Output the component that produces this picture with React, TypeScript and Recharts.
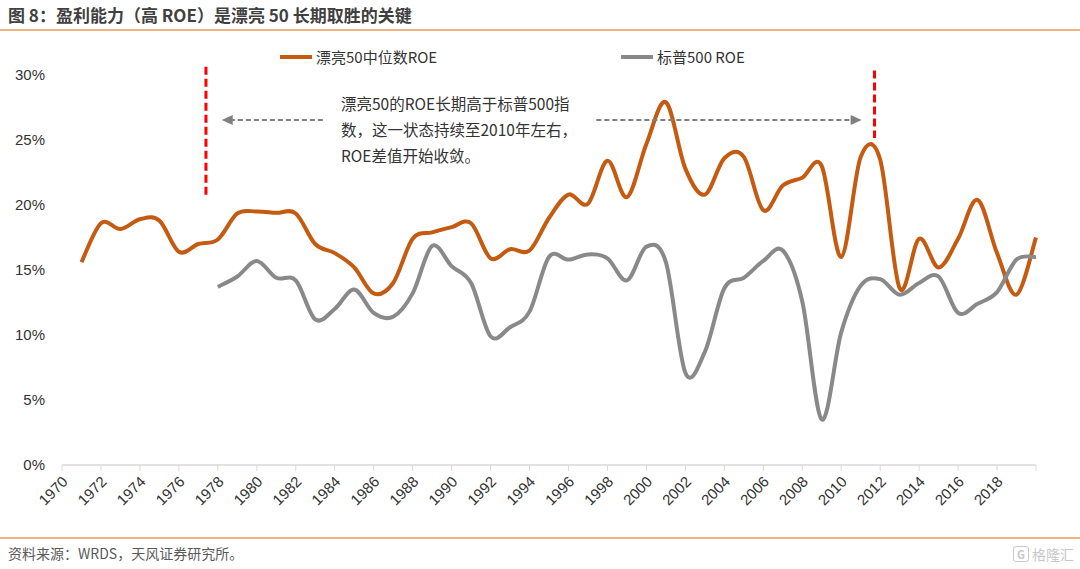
import React from "react";
import { LineChart, Line, XAxis, YAxis, ReferenceLine } from "recharts";

// positions on the year axis (each point sits at the right edge of its year slot)
const years = [
  1971, 1972, 1973, 1974, 1975, 1976, 1977, 1978, 1979, 1980,
  1981, 1982, 1983, 1984, 1985, 1986, 1987, 1988, 1989, 1990,
  1991, 1992, 1993, 1994, 1995, 1996, 1997, 1998, 1999, 2000,
  2001, 2002, 2003, 2004, 2005, 2006, 2007, 2008, 2009, 2010,
  2011, 2012, 2013, 2014, 2015, 2016, 2017, 2018, 2019, 2020,
];

// 漂亮50中位数ROE (%)
const niftyRoe = [
  15.6, 18.6, 18.15, 18.9, 18.8, 16.4, 17.0, 17.35, 19.35, 19.5,
  19.4, 19.35, 17.0, 16.3, 15.2, 13.2, 14.0, 17.4, 17.9, 18.3,
  18.6, 15.9, 16.6, 16.5, 19.0, 20.8, 20.1, 23.4, 20.6, 24.7,
  27.9, 22.8, 20.8, 23.6, 23.7, 19.6, 21.5, 22.1, 23.0, 16.0,
  23.7, 23.5, 13.6, 17.4, 15.2, 17.4, 20.4, 16.3, 13.1, 17.5,
];

// 标普500 ROE (%), starts later
const spStart = 1978;
const spRoe = [
  13.7, 14.5, 15.7,
  14.4, 14.2, 11.2, 12.0, 13.5, 11.7, 11.4, 13.2, 16.85, 15.3,
  14.0, 9.9, 10.6, 11.8, 16.0, 15.8, 16.2, 15.9, 14.2, 16.8,
  15.6, 7.1, 8.7, 13.6, 14.4, 15.7, 16.5, 12.6, 3.5, 10.2,
  13.8, 14.3, 13.1, 14.0, 14.5, 11.7, 12.4, 13.3, 15.8, 16.0,
];

const xTicks = [
  1970, 1972, 1974, 1976, 1978, 1980, 1982, 1984, 1986, 1988, 1990, 1992, 1994,
  1996, 1998, 2000, 2002, 2004, 2006, 2008, 2010, 2012, 2014, 2016, 2018, 2020,
];
const yTicks = [0, 5, 10, 15, 20, 25, 30];

const data = years.map((year, i) => {
  const j = year - spStart;
  return { year, nifty: niftyRoe[i], sp: j >= 0 ? spRoe[j] : null };
});

const CJK = '"Noto Sans CJK SC", "Noto Sans", sans-serif';
const NUM = '"Liberation Sans Narrow", "Liberation Sans", Arial, sans-serif';
const ORANGE = "#c55a11";
const GREY = "#898989";

// excel-like smoothing (catmull-rom through every point)
function excelSmooth(context: any) {
  let pts: number[][] = [];
  return {
    areaStart() {},
    areaEnd() {},
    lineStart() {
      pts = [];
    },
    point(x: number, y: number) {
      pts.push([+x, +y]);
    },
    lineEnd() {
      const n = pts.length;
      if (!n) return;
      context.moveTo(pts[0][0], pts[0][1]);
      for (let i = 0; i < n - 1; i++) {
        const p0 = pts[i - 1] || pts[i];
        const p1 = pts[i];
        const p2 = pts[i + 1];
        const p3 = pts[i + 2] || p2;
        context.bezierCurveTo(
          p1[0] + (p2[0] - p0[0]) / 6,
          p1[1] + (p2[1] - p0[1]) / 6,
          p2[0] - (p3[0] - p1[0]) / 6,
          p2[1] - (p3[1] - p1[1]) / 6,
          p2[0],
          p2[1]
        );
      }
    },
  };
}

function YearTick(props: any) {
  const { x, y, payload } = props;
  if (payload.value === 2020) return <g />;
  return (
    <g transform={`translate(${x + 3},${y + 6})`}>
      <text
        transform="rotate(-45)"
        textAnchor="end"
        dy="0.35em"
        fontSize={15}
        fontFamily={NUM}
        fill="#333"
      >
        {payload.value}
      </text>
    </g>
  );
}

const arrowShape = (props: any) => {
  const { x1, y1, x2, y2 } = props;
  const s = x2 > x1 ? 1 : -1;
  return (
    <g>
      <line
        x1={x1}
        y1={y1}
        x2={x2 - s * 9}
        y2={y2}
        stroke="#7f7f7f"
        strokeWidth={2}
        strokeDasharray="5 3"
      />
      <polygon
        points={`${x2},${y2} ${x2 - s * 11},${y2 - 5} ${x2 - s * 11},${y2 + 5}`}
        fill="#7f7f7f"
      />
    </g>
  );
};

export default function App() {
  return (
    <div
      style={{
        position: "absolute",
        left: 0,
        top: 0,
        width: 1080,
        height: 569,
        background: "#fff",
        fontFamily: CJK,
        overflow: "hidden",
      }}
    >
      <div
        style={{
          position: "absolute",
          left: 8,
          top: 2,
          fontSize: 17,
          fontWeight: 700,
          color: "#404040",
          whiteSpace: "nowrap",
        }}
      >
        图 8：盈利能力（高 ROE）是漂亮 50 长期取胜的关键
      </div>
      <div style={{ position: "absolute", left: 0, top: 29, width: 1080, height: 2, background: "#f4b183" }} />

      <LineChart
        width={1080}
        height={569}
        data={data}
        margin={{ top: 75, right: 44, bottom: 54, left: 12 }}
      >
        <XAxis
          dataKey="year"
          type="number"
          domain={[1970, 2020]}
          ticks={xTicks}
          interval={0}
          height={50}
          tick={<YearTick />}
          tickSize={6}
          axisLine={{ stroke: "#d9d9d9", strokeWidth: 1.5 }}
          tickLine={{ stroke: "#d9d9d9" }}
        />
        <YAxis
          domain={[0, 30]}
          ticks={yTicks}
          width={50}
          axisLine={false}
          tickLine={false}
          tickMargin={11}
          tickFormatter={(v: number) => `${v}%`}
          tick={{ fill: "#333", fontSize: 15, fontFamily: NUM }}
        />
        <Line
          dataKey="nifty"
          type={excelSmooth as any}
          stroke={ORANGE}
          strokeWidth={4}
          dot={false}
          activeDot={false}
          isAnimationActive={false}
        />
        <Line
          dataKey="sp"
          type={excelSmooth as any}
          stroke={GREY}
          strokeWidth={4}
          dot={false}
          activeDot={false}
          isAnimationActive={false}
        />
        <ReferenceLine
          segment={[{ x: 1977.39, y: 30.64 }, { x: 1977.39, y: 20.54 }]}
          stroke="#ff0000"
          strokeWidth={3}
          strokeDasharray="8 4"
          ifOverflow="visible"
        />
        <ReferenceLine
          segment={[{ x: 2011.71, y: 30.35 }, { x: 2011.71, y: 25.15 }]}
          stroke="#ff0000"
          strokeWidth={3}
          strokeDasharray="8 4"
          ifOverflow="visible"
        />
        <ReferenceLine
          segment={[{ x: 1983.39, y: 26.54 }, { x: 1978.2, y: 26.54 }]}
          shape={arrowShape}
          ifOverflow="visible"
        />
        <ReferenceLine
          segment={[{ x: 1997.43, y: 26.54 }, { x: 2011.05, y: 26.54 }]}
          shape={arrowShape}
          ifOverflow="visible"
        />
      </LineChart>

      {/* legend */}
      <div style={{ position: "absolute", left: 280, top: 55, width: 32, height: 4, background: ORANGE }} />
      <div style={{ position: "absolute", left: 316, top: 46, fontSize: 15, color: "#333", whiteSpace: "nowrap" }}>
        漂亮50中位数ROE
      </div>
      <div style={{ position: "absolute", left: 621, top: 55, width: 32, height: 4, background: GREY }} />
      <div style={{ position: "absolute", left: 657, top: 46, fontSize: 15, color: "#333", whiteSpace: "nowrap" }}>
        标普500 ROE
      </div>

      {/* annotation */}
      <div
        style={{
          position: "absolute",
          left: 341,
          top: 90,
          fontSize: 15.5,
          lineHeight: "26px",
          color: "#333",
          whiteSpace: "nowrap",
        }}
      >
        <div>漂亮50的ROE长期高于标普500指</div>
        <div>数，这一状态持续至2010年左右，</div>
        <div>ROE差值开始收敛。</div>
      </div>

      {/* footer */}
      <div style={{ position: "absolute", left: 0, top: 537, width: 1080, height: 2, background: "#f4b183" }} />
      <div style={{ position: "absolute", left: 8, top: 543, fontSize: 14, color: "#595959", whiteSpace: "nowrap" }}>
        资料来源：WRDS，天风证券研究所。
      </div>
      <div
        style={{
          position: "absolute",
          right: 6,
          top: 544,
          display: "flex",
          alignItems: "center",
          gap: 3,
          color: "#c8c8c8",
          fontSize: 14,
        }}
      >
        <span
          style={{
            display: "inline-block",
            width: 14,
            height: 14,
            border: "1.5px solid #c8c8c8",
            borderRadius: 3,
            fontSize: 11,
            lineHeight: "14px",
            textAlign: "center",
            fontWeight: 700,
          }}
        >
          G
        </span>
        <span>格隆汇</span>
      </div>
    </div>
  );
}
